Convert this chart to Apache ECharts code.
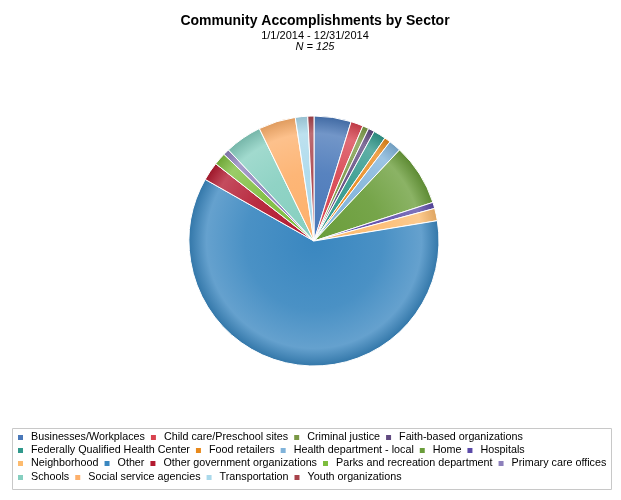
<!DOCTYPE html>
<html><head><meta charset="utf-8">
<script src="https://cdn.jsdelivr.net/npm/echarts@6/dist/echarts.min.js"></script>
<style>html,body{margin:0;padding:0;background:#fff}#c{width:621px;height:500px}</style>
</head><body><div id="c"></div>
<script>
var categories = ["Businesses/Workplaces","Child care/Preschool sites","Criminal justice","Faith-based organizations","Federally Qualified Health Center","Food retailers","Health department - local","Home","Hospitals","Neighborhood","Other","Other government organizations","Parks and recreation department","Primary care offices","Schools","Social service agencies","Transportation","Youth organizations"];
var values = [6,2,1,1,2,1,2,10,1,2,76,3,2,1,6,6,2,1];
var colors = ["#4a78b9","#d8434f","#7a9845","#614a80","#30998c","#e8891b","#80b3da","#6a9d3a","#5b4aa8","#fdbb6e","#3a87c0","#b31a30","#7dbd3d","#8d80bb","#86cfc0","#fdb06b","#aad9eb","#a8434b"];
var legendRows = [[0,1,2,3],[4,5,6,7,8],[9,10,11,12,13],[14,15,16,17]];

function mix(hex, t, target){
  var r=parseInt(hex.substr(1,2),16),g=parseInt(hex.substr(3,2),16),b=parseInt(hex.substr(5,2),16);
  r=Math.round(r+(target-r)*t);g=Math.round(g+(target-g)*t);b=Math.round(b+(target-b)*t);
  return 'rgb('+r+','+g+','+b+')';
}
var CX=314, CY=241, R=125;
function grad(c){
  return {type:'radial', x:CX, y:CY, r:R, global:true, colorStops:[
    {offset:0,color:c},{offset:0.55,color:mix(c,0.08,255)},{offset:0.86,color:mix(c,0.22,255)},{offset:1,color:mix(c,0.12,0)}]};
}
var data = categories.map(function(n,i){return {name:n,value:values[i],itemStyle:{color:grad(colors[i])}};});
var rowTops = [432, 445, 458, 472];
var legends = legendRows.map(function(row,k){
  return {show:true, left:16, top:rowTops[k], width:605, itemWidth:7, itemHeight:7, itemGap:4, icon:'rect', padding:0,
    textStyle:{fontFamily:'Liberation Sans, Arial', fontSize:10.75, color:'#000', padding:[0,0,0,2]},
    selectedMode:false,
    data: row.map(function(i){return {name:categories[i], itemStyle:{color:colors[i]}};})};
});
var chart = echarts.init(document.getElementById('c'), null, {renderer:'canvas'});
chart.setOption({
  animation:false,
  color: colors,
  title:[
    {text:'Community Accomplishments by Sector', left:315, textAlign:'center', top:14, padding:0, textStyle:{fontFamily:'Liberation Sans, Arial', fontSize:14, fontWeight:'bold', color:'#000'}},
    {text:'1/1/2014 - 12/31/2014', left:315, textAlign:'center', top:30, padding:0, textStyle:{fontFamily:'Liberation Sans, Arial', fontSize:11, fontWeight:'normal', color:'#000'}},
    {text:'N = 125', left:315, textAlign:'center', top:41, padding:0, textStyle:{fontFamily:'Liberation Sans, Arial', fontSize:11, fontWeight:'normal', fontStyle:'italic', color:'#000'}}
  ],
  legend: legends,
  graphic:[{type:'rect', shape:{x:12.5, y:428.5, width:599, height:61}, style:{fill:'none', stroke:'#c8c8c8', lineWidth:1}, z:-1}],
  series:[{type:'pie', center:[CX,CY], radius:[0,R], startAngle:90, clockwise:true,
    label:{show:false}, labelLine:{show:false}, silent:true,
    itemStyle:{borderColor:'#fff', borderWidth:1},
    data:data}]
});
</script></body></html>
